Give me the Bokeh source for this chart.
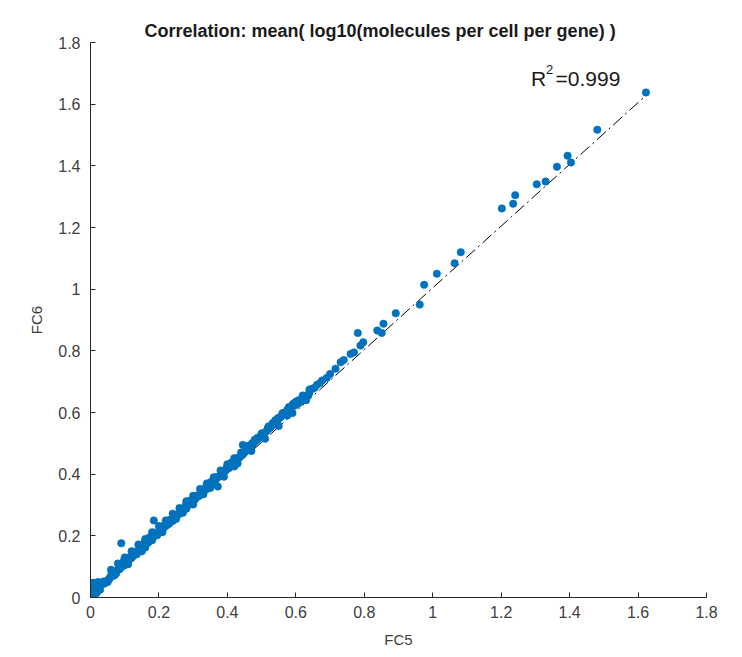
from bokeh.plotting import figure
from bokeh.models import FixedTicker, Range1d, Label, ColumnDataSource
from bokeh.embed import file_html
from bokeh.resources import INLINE

# ---- data ----
fc5 = [
    0.000, 0.003, 0.002, 0.004, 0.008, 0.012, 0.015, 0.020, 0.025, 0.030, 0.035, 0.040, 0.045, 0.050,
    0.010, 0.018, 0.028, 0.006,
    0.055, 0.060, 0.065, 0.070, 0.075, 0.080, 0.085, 0.090, 0.092, 0.098, 0.100, 0.105, 0.110, 0.115,
    0.120, 0.125, 0.130, 0.135, 0.140, 0.145, 0.150, 0.155, 0.160, 0.165, 0.170, 0.175, 0.180, 0.185,
    0.185, 0.190, 0.195, 0.200, 0.205, 0.210, 0.215, 0.220, 0.225, 0.230, 0.235, 0.240, 0.245, 0.250,
    0.255, 0.260, 0.265, 0.270, 0.275, 0.280, 0.285, 0.290, 0.295, 0.300, 0.305, 0.310, 0.315, 0.320,
    0.325, 0.330, 0.335, 0.340, 0.345, 0.350, 0.355, 0.360, 0.365, 0.370, 0.375, 0.380, 0.385, 0.390,
    0.395, 0.400, 0.405, 0.410, 0.415, 0.420, 0.425, 0.430, 0.435, 0.440, 0.445, 0.450, 0.455, 0.460,
    0.465, 0.470, 0.475, 0.480, 0.485, 0.490, 0.495, 0.500, 0.505, 0.510, 0.515, 0.520, 0.525, 0.530,
    0.535, 0.540, 0.545, 0.550, 0.555, 0.560, 0.565, 0.570, 0.575, 0.580, 0.585, 0.590, 0.595, 0.600,
    0.605, 0.610, 0.615, 0.620, 0.625, 0.630, 0.635, 0.640, 0.648, 0.655, 0.662, 0.670, 0.677, 0.690,
    0.700, 0.716, 0.731, 0.740, 0.760, 0.770, 0.781, 0.789, 0.797, 0.838, 0.851, 0.856, 0.892, 0.962,
    0.975, 1.012, 1.064, 1.082, 1.202, 1.235, 1.241, 1.304, 1.330, 1.363, 1.394, 1.404, 1.481, 1.623,
    0.068, 0.083, 0.097, 0.112, 0.128, 0.143, 0.158, 0.172, 0.188, 0.202, 0.218, 0.232, 0.248, 0.262,
    0.278, 0.292, 0.308, 0.322, 0.338, 0.352, 0.368, 0.382, 0.398, 0.412, 0.428, 0.442, 0.458, 0.472,
    0.488, 0.502, 0.518, 0.532, 0.548, 0.562, 0.578, 0.592, 0.608, 0.622, 0.638, 0.575, 0.420, 0.270,
    0.350, 0.150, 0.050, 0.445, 0.372,
    0.060, 0.080, 0.100, 0.120, 0.140, 0.160, 0.180, 0.200, 0.220, 0.240, 0.260, 0.280, 0.300, 0.320,
    0.340, 0.360, 0.380, 0.400, 0.420, 0.440, 0.460, 0.480, 0.500, 0.520, 0.540, 0.560, 0.580, 0.600,
    0.620, 0.640,
    0.070, 0.110, 0.160, 0.210, 0.250, 0.300, 0.330, 0.390, 0.430, 0.470, 0.510, 0.550, 0.590, 0.630,
    0.008, 0.022, 0.038, 0.055,
]
fc6 = [
    0.002, 0.010, 0.025, 0.040, 0.045, 0.020, 0.043, 0.030, 0.044, 0.040, 0.046, 0.045, 0.050, 0.055,
    0.008, 0.015, 0.025, 0.030,
    0.060, 0.072, 0.070, 0.080, 0.078, 0.090, 0.092, 0.176, 0.100, 0.110, 0.105, 0.118, 0.115, 0.125,
    0.128, 0.135, 0.142, 0.140, 0.152, 0.155, 0.158, 0.168, 0.172, 0.175, 0.180, 0.190, 0.186, 0.250,
    0.198, 0.205, 0.202, 0.212, 0.220, 0.218, 0.228, 0.232, 0.236, 0.240, 0.250, 0.248, 0.258, 0.262,
    0.268, 0.272, 0.278, 0.282, 0.290, 0.288, 0.300, 0.302, 0.310, 0.312, 0.318, 0.325, 0.328, 0.332,
    0.340, 0.345, 0.350, 0.352, 0.360, 0.365, 0.368, 0.378, 0.380, 0.388, 0.392, 0.398, 0.400, 0.408,
    0.412, 0.418, 0.420, 0.430, 0.432, 0.440, 0.445, 0.448, 0.455, 0.460, 0.465, 0.470, 0.478, 0.480,
    0.490, 0.492, 0.498, 0.505, 0.510, 0.515, 0.520, 0.525, 0.530, 0.535, 0.540, 0.548, 0.550, 0.558,
    0.562, 0.568, 0.572, 0.580, 0.585, 0.590, 0.598, 0.600, 0.608, 0.612, 0.615, 0.620, 0.622, 0.625,
    0.628, 0.632, 0.638, 0.640, 0.645, 0.652, 0.655, 0.668, 0.677, 0.680, 0.690, 0.695, 0.704, 0.712,
    0.725, 0.742, 0.763, 0.770, 0.790, 0.795, 0.858, 0.817, 0.828, 0.866, 0.858, 0.888, 0.922, 0.950,
    1.014, 1.050, 1.084, 1.120, 1.262, 1.277, 1.305, 1.340, 1.349, 1.397, 1.433, 1.411, 1.517, 1.638,
    0.085, 0.098, 0.118, 0.130, 0.148, 0.160, 0.178, 0.195, 0.210, 0.225, 0.238, 0.252, 0.268, 0.285,
    0.298, 0.315, 0.330, 0.345, 0.360, 0.375, 0.390, 0.405, 0.422, 0.438, 0.452, 0.468, 0.485, 0.500,
    0.518, 0.532, 0.548, 0.565, 0.582, 0.598, 0.612, 0.628, 0.640, 0.650, 0.660, 0.590, 0.425, 0.275,
    0.355, 0.150, 0.050, 0.495, 0.360,
    0.090, 0.110, 0.130, 0.150, 0.172, 0.190, 0.212, 0.232, 0.250, 0.272, 0.290, 0.312, 0.330, 0.352,
    0.370, 0.390, 0.412, 0.432, 0.452, 0.470, 0.492, 0.512, 0.532, 0.555, 0.575, 0.595, 0.618, 0.635,
    0.655, 0.675,
    0.072, 0.108, 0.162, 0.212, 0.255, 0.302, 0.335, 0.392, 0.435, 0.475, 0.515, 0.556, 0.598, 0.640,
    0.048, 0.050, 0.052, 0.062,
]

# fitted line end points
fit_x = [0.0, 1.623]
fit_y = [0.003, 1.628]

r2_parts = ["R", "2", "=0.999"]
r2_x = [1.287, 1.331, 1.359]
r2_y = [1.683, 1.712, 1.683]

axis_ticks = [0, 0.2, 0.4, 0.6, 0.8, 1.0, 1.2, 1.4, 1.6, 1.8]
axis_tick_labels = ["0", "0.2", "0.4", "0.6", "0.8", "1", "1.2", "1.4", "1.6", "1.8"]

title_text = "Correlation: mean( log10(molecules per cell per gene) )"
x_label = "FC5"
y_label = "FC6"

FONT = "Liberation Sans"
TXT = "#404040"

p = figure(
    frame_width=616, frame_height=555,
    x_range=Range1d(0, 1.8), y_range=Range1d(0, 1.8),
    output_backend="svg", toolbar_location=None,
    min_border_left=90, min_border_right=28, min_border_top=42, min_border_bottom=52,
    title=title_text,
)
p.title.align = "left"
p.title.offset = 54
p.title.text_font = FONT
p.title.text_font_size = "18px"
p.title.text_font_style = "bold"
p.title.text_color = "#1a1a1a"
p.title.standoff = 4

p.grid.visible = False
p.outline_line_color = None
p.background_fill_color = "white"
p.border_fill_color = "white"

overrides = {t: l for t, l in zip(axis_ticks, axis_tick_labels)}
for ax, lab in ((p.xaxis, x_label), (p.yaxis, y_label)):
    ax.ticker = FixedTicker(ticks=axis_ticks)
    ax.major_label_overrides = overrides
    ax.major_tick_in = 5
    ax.major_tick_out = 0
    ax.minor_tick_line_color = None
    ax.axis_line_color = "#262626"
    ax.major_tick_line_color = "#262626"
    ax.major_label_text_font = FONT
    ax.major_label_text_font_size = "16px"
    ax.major_label_text_color = TXT
    ax.axis_label = lab
    ax.axis_label_text_font = FONT
    ax.axis_label_text_font_size = "15px"
    ax.axis_label_text_font_style = "normal"
    ax.axis_label_text_color = TXT

p.xaxis.major_label_standoff = 8
p.yaxis.major_label_standoff = 10
p.xaxis.axis_label_standoff = 10
p.yaxis.axis_label_standoff = 10

p.line(fit_x, fit_y, line_color="black", line_width=1, line_dash="12 4 2 4")

src = ColumnDataSource(dict(x=fc5, y=fc6))
p.scatter("x", "y", source=src, size=7.5, fill_color="#0072BD", line_color="#0072BD",
          line_width=0.5)

sizes = ["21px", "13px", "21px"]
for t, xx, yy, fs in zip(r2_parts, r2_x, r2_y, sizes):
    p.add_layout(Label(x=xx, y=yy, text=t, text_font=FONT, text_font_size=fs,
                       text_color="#1a1a1a", text_baseline="alphabetic"))

open("out.html", "w").write(file_html(p, INLINE))
